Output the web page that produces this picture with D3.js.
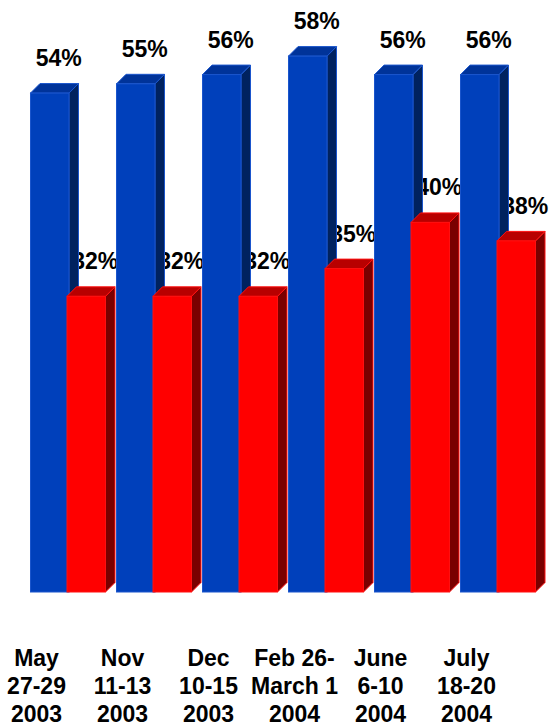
<!DOCTYPE html>
<html>
<head>
<meta charset="utf-8">
<script src="https://cdn.jsdelivr.net/npm/d3@7"></script>
<style>
html,body{margin:0;padding:0;background:#fff}
svg{display:block}
text{font-family:"Liberation Sans",Arial,sans-serif;font-weight:bold;fill:#000}
</style>
</head>
<body>
<svg id="c" width="549" height="724"></svg>
<script>
const categories = ["May|27-29|2003","Nov|11-13|2003","Dec|10-15|2003","Feb 26-|March 1|2004","June|6-10|2004","July|18-20|2004"];
const blueValues = [54,55,56,58,56,56];
const redValues = [32,32,32,35,40,38];
const blueColors = {front:"#0040bb",top:"#003399",side:"#00225f",edge:"#1a55cc"};
const redColors = {front:"#ff0000",top:"#b80000",side:"#7a0000",edge:"#ff1010"};

const svg = d3.select("#c");
const x = d3.scaleBand().domain(categories).range([30,546]);
const y = d3.scaleLinear().domain([0,58]).range([592,56.1]);
const barW = 38.5, depth = 9.5, redOffset = 36.5;

// labels are painted first: the bars cover them, as in the reference
function labels(values, off){
  svg.append("g").selectAll("text").data(values).join("text")
    .attr("x",(d,i)=>x(categories[i])+off+barW/2+9.5)
    .attr("y",d=>y(d)-27)
    .attr("text-anchor","middle")
    .attr("font-size",23)
    .text(d=>d+"%");
}
labels(blueValues,0);
labels(redValues,redOffset);

function bar(v, cat, off, col){
  const a = x(cat)+off+0.5, t = y(v), b = y(0);
  const g = svg.append("g").datum(v);
  g.append("path").attr("fill",col.side).attr("stroke",col.edge)
    .attr("d",`M${a+barW},${t}L${a+barW+depth},${t-depth}L${a+barW+depth},${b-depth}L${a+barW},${b}Z`);
  g.append("path").attr("fill",col.top).attr("stroke",col.edge)
    .attr("d",`M${a},${t}L${a+depth},${t-depth}L${a+barW+depth},${t-depth}L${a+barW},${t}Z`);
  g.append("rect").attr("fill",col.front).attr("stroke",col.edge)
    .attr("x",a).attr("y",t).attr("width",barW).attr("height",b-t);
}
categories.forEach((c,i)=>{
  bar(blueValues[i],c,0,blueColors);
  bar(redValues[i],c,redOffset,redColors);
});

// category labels, three lines each
const cat = svg.append("g").selectAll("text").data(categories).join("text")
  .attr("text-anchor","middle")
  .attr("font-size",23)
  .attr("transform",d=>`translate(${x(d)+6.5},665.5)`);
cat.selectAll("tspan").data(d=>d.split("|")).join("tspan")
  .attr("x",0).attr("y",(d,i)=>i*28).text(d=>d);
</script>
</body>
</html>
